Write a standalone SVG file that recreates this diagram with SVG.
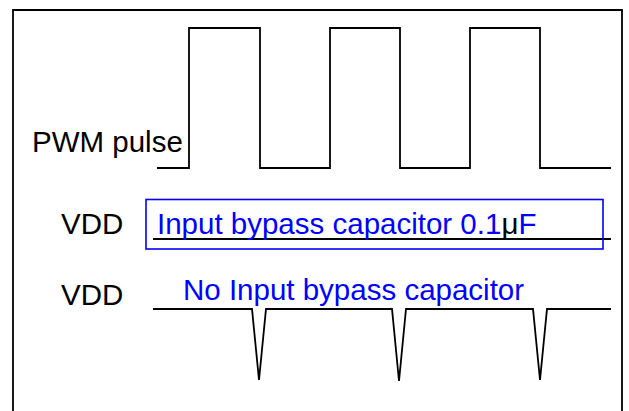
<svg xmlns="http://www.w3.org/2000/svg" width="629" height="411" viewBox="0 0 629 411">
<style>
.ln{fill:none;stroke:#000;stroke-width:1.8;stroke-linejoin:miter}
.t{font-family:"Liberation Sans",Arial,sans-serif;font-size:29.5px}
.k{fill:#000}
.b{fill:#0000FF}
</style>
<rect width="629" height="411" fill="#fff"/>
<g id="frame"><path class="ln" d="M13,420 V10 H622 V420"/></g>
<g id="pwm">
<text class="t k" x="32" y="151.5">PWM pulse</text>
<path class="ln" d="M157,168 H189 V28 H260 V168 H330 V28 H400 V168 H470 V28 H540 V168 H611"/>
</g>
<g id="vdd1">
<text class="t k" x="61" y="234">VDD</text>
<path class="ln" d="M153,239 H611"/>
<rect x="146" y="199.5" width="457" height="49.5" fill="none" stroke="#0000FF" stroke-width="1.6"/>
<text class="t b" x="157" y="234">Input bypass capacitor 0.1<tspan class="k">μ</tspan>F</text>
</g>
<g id="vdd2">
<text class="t k" x="61" y="305">VDD</text>
<text class="t b" x="183" y="300">No Input bypass capacitor</text>
<path class="ln" d="M153,309 H252 L259,380 L266,309 H392 L399,381 L406,309 H533 L540,380 L547,309 H611"/>
</g>
</svg>
